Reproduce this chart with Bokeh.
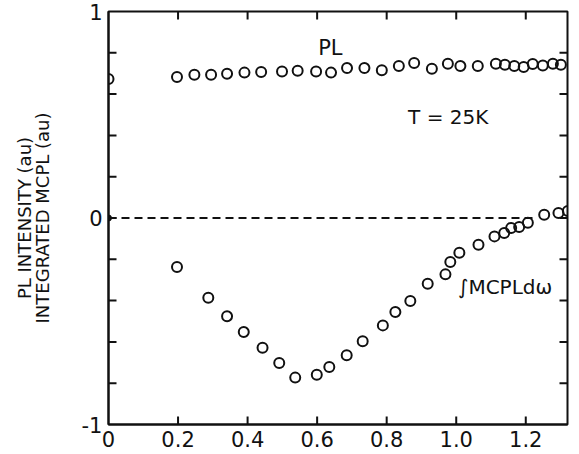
import math
from bokeh.plotting import figure
from bokeh.models import Range1d, FixedTicker, LinearAxis, Label, CustomJSTickFormatter
from bokeh.embed import file_html
from bokeh.resources import INLINE

# ---- data ----
pl_x = [0.0, 0.197, 0.247, 0.295, 0.341, 0.391, 0.439, 0.499, 0.544, 0.597, 0.640,
        0.686, 0.736, 0.786, 0.835, 0.879, 0.930, 0.976, 1.012, 1.062, 1.114,
        1.140, 1.167, 1.194, 1.220, 1.249, 1.278, 1.301]
pl_y = [0.673, 0.683, 0.694, 0.694, 0.699, 0.704, 0.707, 0.710, 0.713, 0.710, 0.704,
        0.726, 0.726, 0.715, 0.736, 0.751, 0.723, 0.747, 0.736, 0.736, 0.747,
        0.742, 0.736, 0.731, 0.746, 0.739, 0.747, 0.742]

mcpl_x = [0.197, 0.287, 0.341, 0.389, 0.443, 0.491, 0.537, 0.599, 0.635, 0.685,
          0.731, 0.789, 0.825, 0.868, 0.918, 0.969, 0.983, 1.009, 1.064, 1.110,
          1.138, 1.158, 1.181, 1.206, 1.253, 1.294, 1.321]
mcpl_y = [-0.237, -0.386, -0.476, -0.552, -0.628, -0.702, -0.773, -0.759, -0.722, -0.665,
          -0.597, -0.520, -0.455, -0.402, -0.318, -0.273, -0.213, -0.168, -0.129, -0.089,
          -0.073, -0.048, -0.044, -0.023, 0.016, 0.024, 0.034]

zero_x = [0.0, 1.22]
zero_y = [0.0, 0.0]

x_ticks = [0, 0.2, 0.4, 0.6, 0.8, 1.0, 1.2]
x_inner_ticks = [0.2, 0.4, 0.6, 0.8, 1.0, 1.2]
y_ticks = [-1, 0, 1]
y_inner_ticks = [-0.8, -0.6, -0.4, -0.2, 0, 0.2, 0.4, 0.6, 0.8]
y_title = "PL INTENSITY (au)\nINTEGRATED MCPL (au)"

X0, X1 = 0.0, 1.32
Y0, Y1 = -1.0, 1.0
FRAME_W, FRAME_H = 459, 413
TICK_PX = 8
tx = TICK_PX * (X1 - X0) / FRAME_W   # tick length in x data units
ty = TICK_PX * (Y1 - Y0) / FRAME_H   # tick length in y data units

FONT = "DejaVu Sans"
INK = "#111111"

p = figure(frame_width=FRAME_W, frame_height=FRAME_H, output_backend="svg",
           toolbar_location=None,
           x_range=Range1d(X0, X1), y_range=Range1d(Y0, Y1),
           min_border_left=108, min_border_right=8, min_border_top=11, min_border_bottom=28,
           x_axis_type=None, y_axis_type=None)
p.background_fill_color = "white"
p.border_fill_color = "white"
p.grid.visible = False
p.outline_line_color = INK
p.outline_line_width = 2

def style_axis(ax):
    ax.axis_line_color = INK
    ax.axis_line_width = 2
    ax.major_tick_line_color = None
    ax.minor_tick_line_color = None
    ax.major_tick_in = 0
    ax.major_tick_out = 0
    ax.major_label_text_font = FONT
    ax.major_label_text_color = INK

xb = LinearAxis(ticker=FixedTicker(ticks=x_ticks))
style_axis(xb)
xb.major_label_text_font_size = "21px"
xb.major_label_standoff = 6
xb.formatter = CustomJSTickFormatter(code="return Math.abs(tick) < 1e-9 ? '0' : tick.toFixed(1);")
p.add_layout(xb, "below")

yl = LinearAxis(ticker=FixedTicker(ticks=y_ticks))
style_axis(yl)
yl.major_label_text_font_size = "21px"
yl.major_label_standoff = 6
yl.formatter = CustomJSTickFormatter(code="return tick < 0 ? '-' + Math.abs(tick).toFixed(0) : tick.toFixed(0);")
yl.axis_label = y_title
yl.axis_label_text_font = FONT
yl.axis_label_text_font_style = "normal"
yl.axis_label_text_font_size = "18px"
yl.axis_label_text_line_height = 0.85
yl.axis_label_text_color = INK
yl.axis_label_standoff = 26
p.add_layout(yl, "left")

# inward tick marks on all four sides
TK = dict(line_color=INK, line_width=2)
n = len(x_inner_ticks)
m = len(y_inner_ticks)
p.segment(x0=x_inner_ticks, y0=[Y0] * n, x1=x_inner_ticks, y1=[Y0 + ty] * n, **TK)
p.segment(x0=x_inner_ticks, y0=[Y1] * n, x1=x_inner_ticks, y1=[Y1 - ty] * n, **TK)
p.segment(x0=[X0] * m, y0=y_inner_ticks, x1=[X0 + tx] * m, y1=y_inner_ticks, **TK)
p.segment(x0=[X1] * m, y0=y_inner_ticks, x1=[X1 - tx] * m, y1=y_inner_ticks, **TK)

# dashed zero line
p.line(zero_x, zero_y, line_color=INK, line_width=1.8, line_dash="8 5")
p.scatter([0.0], [0.0], size=6, fill_color=INK, line_color=INK)

# data points
p.scatter(pl_x, pl_y, size=10, marker="circle", fill_color=None,
          line_color=INK, line_width=2)
p.scatter(mcpl_x, mcpl_y, size=10, marker="circle", fill_color=None,
          line_color=INK, line_width=2)

# annotations
p.add_layout(Label(x=0.638, y=0.821, text="PL", text_font=FONT, text_font_size="21px",
                   text_color=INK, text_align="center", text_baseline="middle"))
p.add_layout(Label(x=0.977, y=0.487, text="T = 25K", text_font=FONT, text_font_size="20px",
                   text_color=INK, text_align="center", text_baseline="middle"))
p.add_layout(Label(x=1.005, y=-0.334, text="\u222bMCPLd\u03c9", text_font=FONT,
                   text_font_size="20px", text_color=INK, text_align="left",
                   text_baseline="middle"))

open("out.html", "w").write(file_html(p, INLINE))
